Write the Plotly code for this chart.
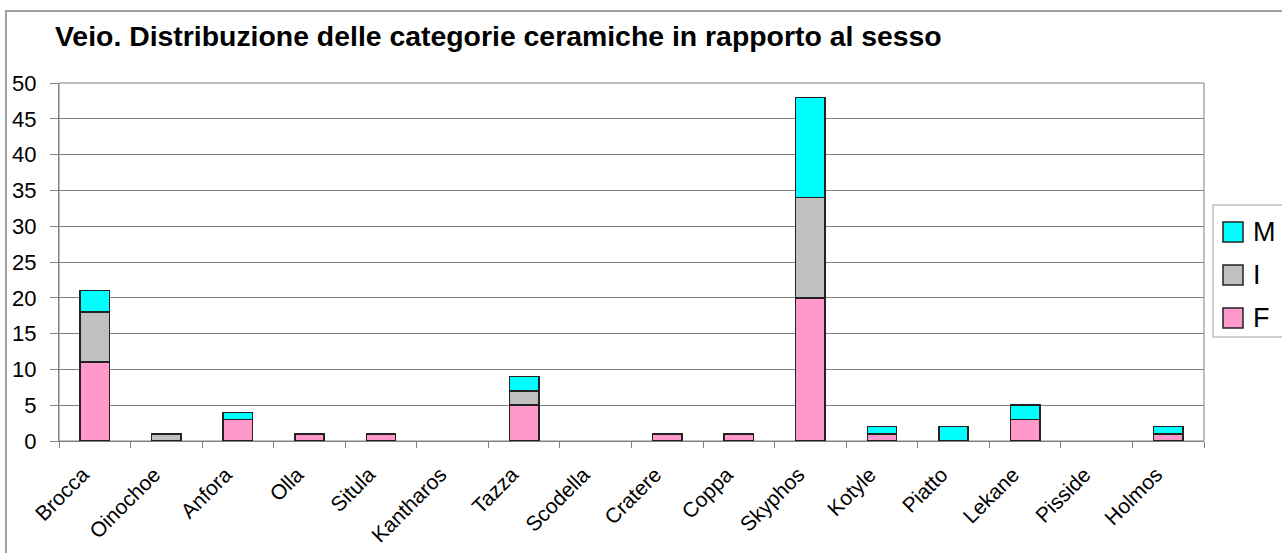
import plotly.graph_objects as go

categories = ["Brocca", "Oinochoe", "Anfora", "Olla", "Situla", "Kantharos", "Tazza",
              "Scodella", "Cratere", "Coppa", "Skyphos", "Kotyle", "Piatto", "Lekane",
              "Pisside", "Holmos"]
F_vals = [11, 0, 3, 1, 1, 0, 5, 0, 1, 1, 20, 1, 0, 3, 0, 1]
I_vals = [7, 1, 0, 0, 0, 0, 2, 0, 0, 0, 14, 0, 0, 0, 0, 0]
M_vals = [3, 0, 1, 0, 0, 0, 2, 0, 0, 0, 14, 1, 2, 2, 0, 1]
series_names = ["F", "I", "M"]
series_colors = ["#FF99CC", "#C0C0C0", "#00FFFF"]
y_ticks = list(range(0, 51, 5))

FONT = "Arial, 'Liberation Sans', sans-serif"
W, H = 1282, 553
L, R, T, B = 59, 1204, 83, 441  # plot area pixel box

def px_x(p):
    return (p - L) / (R - L)

def px_y(p):
    return (B - p) / (B - T)

fig = go.Figure()
for name, vals, col in zip(series_names, [F_vals, I_vals, M_vals], series_colors):
    fig.add_trace(go.Bar(
        x=categories, y=[v if v else None for v in vals], name=name,
        marker=dict(color=col, line=dict(color="#222222", width=1.5)),
        width=0.41, showlegend=False,
    ))

fig.update_layout(
    width=W, height=H,
    barmode="stack",
    paper_bgcolor="white", plot_bgcolor="white",
    margin=dict(l=L, r=W - R, t=T, b=H - B, pad=0, autoexpand=False),
    font=dict(family=FONT, color="black"),
    title=dict(text="<b>Veio. Distribuzione delle categorie ceramiche in rapporto al sesso</b>",
               x=55 / W, xanchor="left", y=1 - 36 / H, yanchor="middle",
               font=dict(size=28.4, family=FONT, color="black")),
    showlegend=False,
)
fig.update_xaxes(
    type="category", tickson="boundaries", ticks="outside", ticklen=6,
    tickcolor="#808080", showline=True, linecolor="#808080", linewidth=1,
    showgrid=False, tickangle=-45, tickfont=dict(size=21, family=FONT, color="black"),
    ticklabelstandoff=12, ticklabelshift=-12, range=[-0.5, 15.5],
)
fig.update_yaxes(
    range=[0, 50], tickvals=y_ticks, ticks="outside", ticklen=8, tickcolor="#808080",
    showline=True, linecolor="#808080", linewidth=1,
    showgrid=True, gridcolor="#808080", gridwidth=1, zeroline=False,
    tickfont=dict(size=22, family=FONT, color="black"), ticklabelstandoff=9,
)
# plot area border (top & right)
fig.add_shape(type="rect", xref="paper", yref="paper", x0=0, y0=0, x1=1, y1=1,
              line=dict(color="#808080", width=1), layer="below")
# chart area border
fig.add_shape(type="rect", xref="paper", yref="paper",
              x0=px_x(6), y0=px_y(560), x1=px_x(1295), y1=px_y(11),
              line=dict(color="#A0A0A0", width=2), layer="below")

# legend box (manual, to match large swatches)
fig.add_shape(type="rect", xref="paper", yref="paper",
              x0=px_x(1213), y0=px_y(337), x1=px_x(1290), y1=px_y(205),
              line=dict(color="#A0A0A0", width=1), fillcolor="white")
row_y = [318, 275, 232]  # F, I, M rows (pixel centres)
for name, col, cy in zip(series_names, series_colors, row_y):
    fig.add_shape(type="rect", xref="paper", yref="paper",
                  x0=px_x(1223), x1=px_x(1243), y0=px_y(cy + 10), y1=px_y(cy - 10),
                  line=dict(color="#222222", width=1.5), fillcolor=col)
    fig.add_annotation(xref="paper", yref="paper", x=px_x(1251), y=px_y(cy),
                       xanchor="left", yanchor="middle", text=name, showarrow=False,
                       font=dict(size=27, family=FONT, color="black"))

fig.write_html("out.html")
